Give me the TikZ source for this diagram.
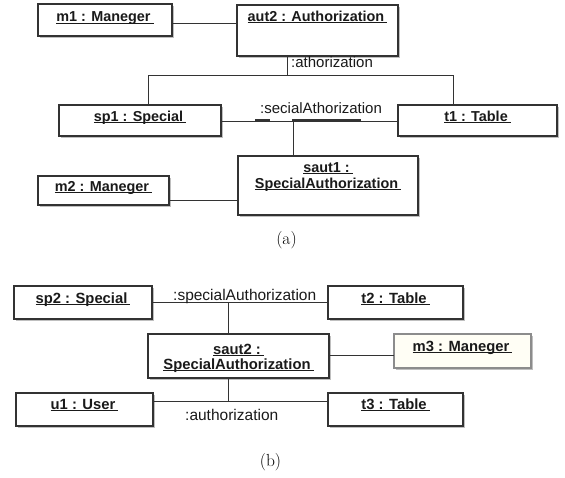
\documentclass[tikz,border=0pt]{standalone}
\usepackage{fontspec}
\newfontfamily\arialf{Liberation Sans}
\usetikzlibrary{shadows}
\newsavebox\ulbx
\newcommand\uln[1]{\sbox\ulbx{#1\hspace{3pt}}\rlap{\rule[-2.2pt]{\wd\ulbx}{1.1pt}}\usebox\ulbx}
\definecolor{boxline}{HTML}{333333}
\definecolor{txt}{HTML}{1A1A1A}
\begin{document}
\begin{tikzpicture}[x=1pt,y=-1pt,
 obj/.style={draw=boxline, line width=1.1pt, fill=white, inner sep=0pt, outer sep=0pt, anchor=north west, text=txt,
   drop shadow={shadow xshift=1.6pt, shadow yshift=-1.6pt, fill=black!25, opacity=1}},
 objA/.style={obj, font=\arialf\bfseries\fontsize{14.4}{16}\selectfont},
 objB/.style={obj, font=\arialf\bfseries\fontsize{14.8}{14.5}\selectfont},
 lblA/.style={inner sep=0pt, anchor=base west, text=txt, font=\arialf\fontsize{15}{18}\selectfont},
 lblB/.style={inner sep=0pt, anchor=base west, text=txt, font=\arialf\fontsize{15.5}{18}\selectfont},
 link/.style={draw=boxline, line width=0.9pt},
 subcap/.style={font=\fontsize{17.5}{20}\selectfont, inner sep=0pt, anchor=base}
]
\fill[white] (0,0) rectangle (565,477);
\useasboundingbox (0,0) rectangle (565,477);

% ---------- (a) ----------
\node[objA, minimum width=134pt, text height=17.5pt, text depth=14.5pt] (m1) at (38,4) {\uln{m1 : Maneger}};
\node[objA, minimum width=161pt, text height=16pt, text depth=35pt] (aut2) at (237,5) {\uln{aut2 : Authorization}};
\node[objA, minimum width=162pt, text height=16pt, text depth=15pt] (sp1) at (59,105) {\uln{sp1 : Special}};
\node[objA, minimum width=159pt, text height=16pt, text depth=15pt] (t1) at (398,105) {\uln{t1 : Table}};
\node[objA, minimum width=131pt, text height=15pt, text depth=14pt] (m2) at (38,176) {\uln{m2 : Maneger}};
\node[objA, minimum width=180pt, text height=16pt, text depth=43pt] (saut1) at (238,156)
  {\begin{tabular}[t]{@{}c@{}}\uln{saut1 :}\\\uln{SpecialAuthorization}\end{tabular}};

\coordinate (ya1) at (0,23);
\draw[link] (m1.east |- ya1) -- (aut2.west |- ya1);
\coordinate (ja) at (287,75);
\coordinate (jl) at (148,75);
\coordinate (jr) at (453,75);
\draw[link] (aut2.south -| ja) -- (ja);
\draw[link] (sp1.north -| jl) -- (jl) -- (jr) -- (t1.north -| jr);
\coordinate (yb1) at (0,121);
\draw[link] (sp1.east |- yb1) -- (t1.west |- yb1);
\coordinate (jb) at (293,121);
\draw[link] (jb) -- (saut1.north -| jb);
\draw[boxline, line width=2pt] (255,119.5) -- (270,119.5) (292,119.5) -- (361,119.5);
\coordinate (yc1) at (0,200);
\draw[link] (m2.east |- yc1) -- (saut1.west |- yc1);

\node[lblA] (la1) at (291,67) {:athorization};
\node[lblA] (la2) at (260,113) {:secialAthorization};
\node[subcap] (capa) at (286.5,244.5) {(a)};

% ---------- (b) ----------
\node[objB, minimum width=138pt, text height=17pt, text depth=16pt] (sp2) at (14,286) {\uln{sp2 : Special}};
\node[objB, minimum width=135pt, text height=17pt, text depth=16pt] (t2) at (328,286) {\uln{t2 : Table}};
\node[objB, minimum width=181pt, text height=20pt, text depth=24pt] (saut2) at (148,334)
  {\begin{tabular}[t]{@{}c@{}}\uln{saut2 :}\\\uln{SpecialAuthorization}\end{tabular}};
\node[objB, minimum width=137pt, text height=17pt, text depth=17pt, draw=black!45, fill=yellow!4] (m3) at (394,334) {\uln{m3 : Maneger}};
\node[objB, minimum width=137pt, text height=16pt, text depth=17pt] (u1) at (16,393) {\uln{u1 : User}};
\node[objB, minimum width=135pt, text height=16pt, text depth=17pt] (t3) at (328,393) {\uln{t3 : Table}};

\coordinate (yd) at (0,302);
\draw[link] (sp2.east |- yd) -- (t2.west |- yd);
\coordinate (jd) at (228,302);
\draw[link] (jd) -- (saut2.north -| jd);
\coordinate (ye) at (0,355);
\draw[link] (saut2.east |- ye) -- (m3.west |- ye);
\coordinate (jf) at (228,401);
\draw[link] (saut2.south -| jf) -- (jf);
\draw[link] (u1.east |- jf) -- (t3.west |- jf);

\node[lblB] (lb1) at (173,300) {:specialAuthorization};
\node[lblB] (lb2) at (185,420) {:authorization};
\node[subcap] (capb) at (270.5,466) {(b)};
\end{tikzpicture}
\end{document}
